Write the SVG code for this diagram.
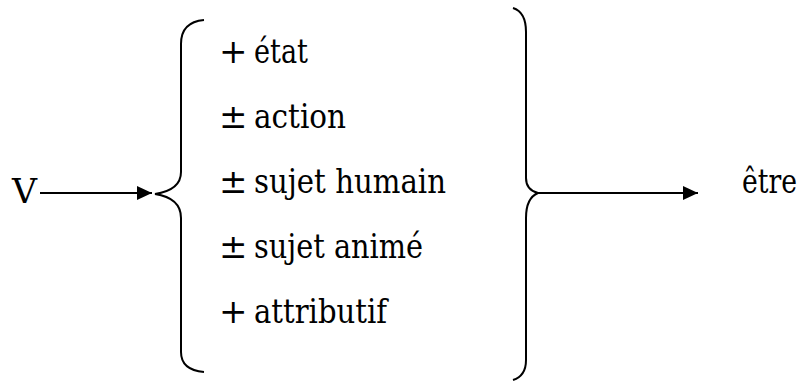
<svg xmlns="http://www.w3.org/2000/svg" width="803" height="385" viewBox="0 0 803 385">
<style>
text{font-family:'DejaVu Serif','Liberation Serif',serif;font-size:34px;fill:#000}
.brace{fill:none;stroke:#000;stroke-width:2}
.conn{stroke:#000;stroke-width:1.8;fill:none}
</style>
<defs>
<marker id="ah" markerWidth="16" markerHeight="14" refX="15" refY="7" orient="auto" markerUnits="userSpaceOnUse">
<path d="M0,0 L15,7 L0,14 Z" fill="#000"/>
</marker>
</defs>
<rect width="803" height="385" fill="#fff"/>
<g id="node-V"><text x="12" y="203" textLength="25" lengthAdjust="spacingAndGlyphs">V</text></g>
<g id="node-features">
<path class="brace" d="M204,20 Q181,22 181,44 L181,172 Q181,190 155,194 Q181,198 181,218 L181,352 Q181,370 204,372"/>
<text x="219" y="63">+</text><text x="254" y="63" textLength="54" lengthAdjust="spacingAndGlyphs">état</text>
<text x="219" y="128">±</text><text x="254" y="128" textLength="92" lengthAdjust="spacingAndGlyphs">action</text>
<text x="219" y="193">±</text><text x="254" y="193" textLength="192" lengthAdjust="spacingAndGlyphs">sujet humain</text>
<text x="219" y="258">±</text><text x="254" y="258" textLength="169" lengthAdjust="spacingAndGlyphs">sujet animé</text>
<text x="219" y="323">+</text><text x="254" y="323" textLength="133" lengthAdjust="spacingAndGlyphs">attributif</text>
<path class="brace" d="M513,8 Q526,12 526,32 L526,178 Q526,190 538,193 Q526,198 526,218 L526,360 Q526,376 513,380"/>
</g>
<g id="node-etre"><text x="742" y="193" textLength="55" lengthAdjust="spacingAndGlyphs">être</text></g>
<g id="connectors">
<line class="conn" x1="40" y1="193" x2="152" y2="193" marker-end="url(#ah)"/>
<line class="conn" x1="538" y1="193" x2="698" y2="193" marker-end="url(#ah)"/>
</g>
</svg>
